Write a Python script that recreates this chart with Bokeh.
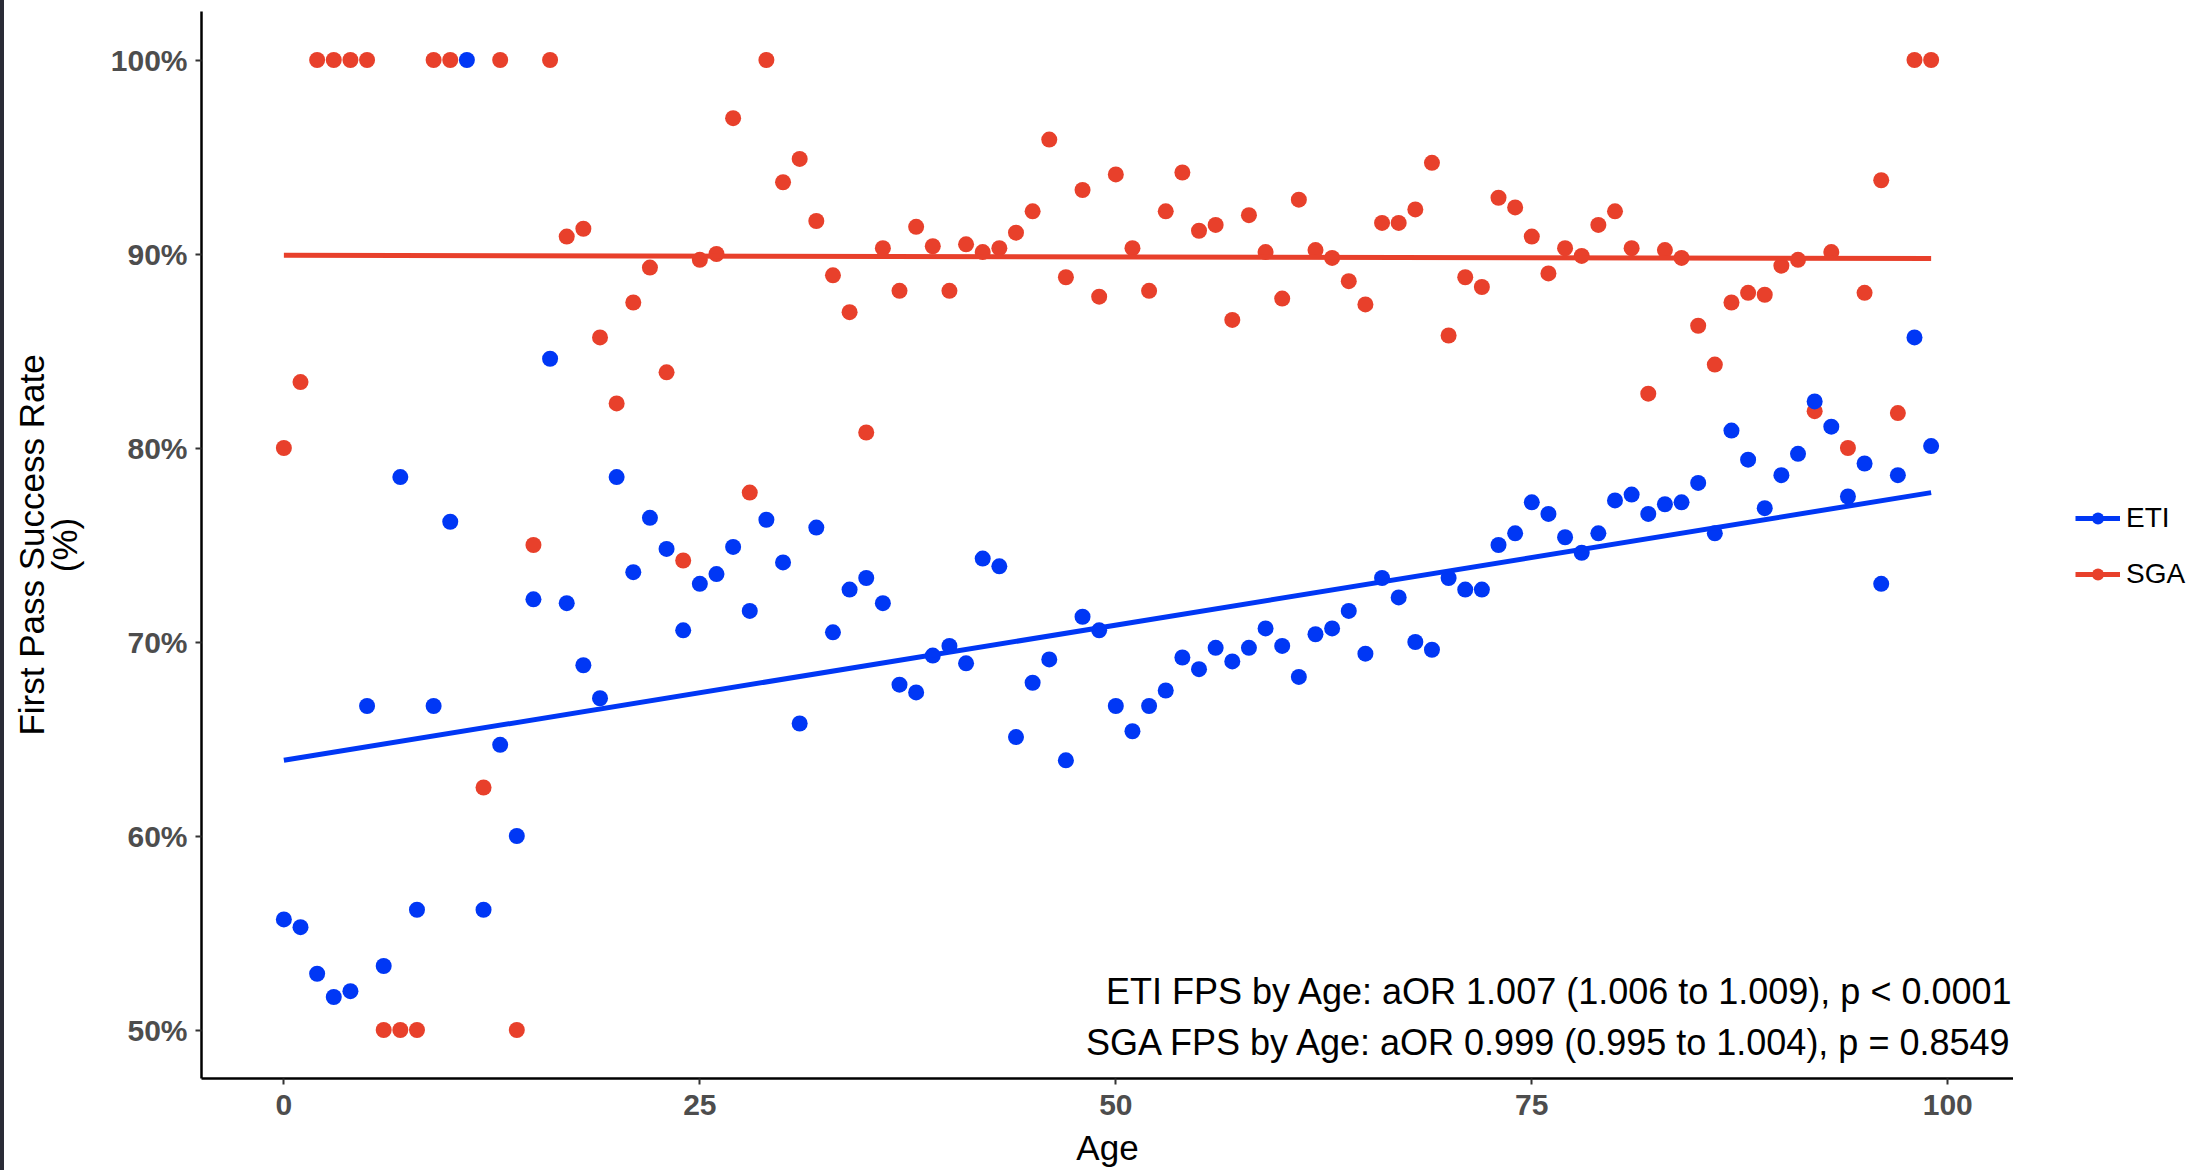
from bokeh.plotting import figure
from bokeh.models import (Legend, LegendItem, Label, FixedTicker, PrintfTickFormatter,
                          Range1d, ColumnDataSource, Div)
from bokeh.layouts import row
from bokeh.embed import file_html
from bokeh.resources import INLINE

# ---------------- data ----------------
eti_age = list(range(100))
eti_fps = [55.7, 55.3, 52.9, 51.7, 52.0, 66.7, 53.3, 78.5, 56.2, 66.7,
           76.2, 100.0, 56.2, 64.7, 60.0, 72.2, 84.6, 72.0, 68.8, 67.1,
           78.5, 73.6, 76.4, 74.8, 70.6, 73.0, 73.5, 74.9, 71.6, 76.3,
           74.1, 65.8, 75.9, 70.5, 72.7, 73.3, 72.0, 67.8, 67.4, 69.3,
           69.8, 68.9, 74.3, 73.9, 65.1, 67.9, 69.1, 63.9, 71.3, 70.6,
           66.7, 65.4, 66.7, 67.5, 69.2, 68.6, 69.7, 69.0, 69.7, 70.7,
           69.8, 68.2, 70.4, 70.7, 71.6, 69.4, 73.3, 72.3, 70.0, 69.6,
           73.3, 72.7, 72.7, 75.0, 75.6, 77.2, 76.6, 75.4, 74.6, 75.6,
           77.3, 77.6, 76.6, 77.1, 77.2, 78.2, 75.6, 80.9, 79.4, 76.9,
           78.6, 79.7, 82.4, 81.1, 77.5, 79.2, 73.0, 78.6, 85.7, 80.1]

sga_age = [0, 1, 2, 3, 4, 5, 6, 7, 8, 9, 10, 12, 13, 14, 15, 16, 17, 18, 19,
           20, 21, 22, 23, 24, 25, 26, 27, 28, 29, 30, 31, 32, 33, 34, 35, 36, 37, 38, 39,
           40, 41, 42, 43, 44, 45, 46, 47, 48, 49, 50, 51, 52, 53, 54, 55, 56, 57, 58, 59,
           60, 61, 62, 63, 64, 65, 66, 67, 68, 69, 70, 71, 72, 73, 74, 75, 76, 77, 78, 79,
           80, 81, 82, 83, 84, 85, 86, 87, 88, 89, 90, 91, 92, 93, 94, 95, 96, 97, 98, 99]
sga_fps = [80.0, 83.4, 100.0, 100.0, 100.0, 100.0, 50.0, 50.0, 50.0, 100.0, 100.0,
           62.5, 100.0, 50.0, 75.0, 100.0, 90.9, 91.3, 85.7,
           82.3, 87.5, 89.3, 83.9, 74.2, 89.7, 90.0, 97.0, 77.7, 100.0,
           93.7, 94.9, 91.7, 88.9, 87.0, 80.8, 90.3, 88.1, 91.4, 90.4,
           88.1, 90.5, 90.1, 90.3, 91.1, 92.2, 95.9, 88.8, 93.3, 87.8,
           94.1, 90.3, 88.1, 92.2, 94.2, 91.2, 91.5, 86.6, 92.0, 90.1,
           87.7, 92.8, 90.2, 89.8, 88.6, 87.4, 91.6, 91.6, 92.3, 94.7,
           85.8, 88.8, 88.3, 92.9, 92.4, 90.9, 89.0, 90.3, 89.9, 91.5,
           92.2, 90.3, 82.8, 90.2, 89.8, 86.3, 84.3, 87.5, 88.0, 87.9,
           89.4, 89.7, 81.9, 90.1, 80.0, 88.0, 93.8, 81.8, 100.0, 100.0]

# fitted trend lines (end points)
fit_age = [0, 99]
eti_fit = [63.9, 77.7]
sga_fit = [89.93, 89.77]

x_ticks = [0, 25, 50, 75, 100]
y_ticks = [50, 60, 70, 80, 90, 100]

groups = ["ETI", "SGA"]
annot_lines = ["ETI FPS by Age: aOR 1.007 (1.006 to 1.009), p < 0.0001",
               "SGA FPS by Age: aOR 0.999 (0.995 to 1.004), p = 0.8549"]

BLUE = "#0037F5"
RED = "#E8402B"
FONT = "Liberation Sans"
X_LO, X_HI = -4.95, 103.95

sga_src = ColumnDataSource(dict(x=sga_age, y=sga_fps))
eti_src = ColumnDataSource(dict(x=eti_age, y=eti_fps))
eti_fit_src = ColumnDataSource(dict(x=fit_age, y=eti_fit))
sga_fit_src = ColumnDataSource(dict(x=fit_age, y=sga_fit))

# ---------------- main panel ----------------
p = figure(width=2009, height=1170, output_backend="svg", toolbar_location=None,
           x_range=Range1d(X_LO, X_HI), y_range=Range1d(47.5, 102.5),
           min_border_left=197, min_border_right=0, min_border_top=11,
           min_border_bottom=92)
p.outline_line_color = None
p.grid.visible = False
p.background_fill_color = "white"
p.border_fill_color = "white"

p.scatter("x", "y", source=sga_src, size=16, color=RED, line_color=None)
p.scatter("x", "y", source=eti_src, size=16, color=BLUE, line_color=None)
p.line("x", "y", source=eti_fit_src, color=BLUE, line_width=5)
p.line("x", "y", source=sga_fit_src, color=RED, line_width=5)

for ax in (p.xaxis[0], p.yaxis[0]):
    ax.axis_line_color = "black"
    ax.axis_line_width = 2.5
    ax.major_tick_line_color = "#333333"
    ax.major_tick_line_width = 2
    ax.major_tick_out = 6
    ax.major_tick_in = 0
    ax.minor_tick_line_color = None
    ax.major_label_text_font = FONT
    ax.major_label_text_font_style = "bold"
    ax.major_label_text_color = "#4D4D4D"
    ax.major_label_text_font_size = "30px"
    ax.axis_label_text_font = FONT
    ax.axis_label_text_font_style = "normal"
    ax.axis_label_text_color = "black"
    ax.axis_label_text_font_size = "35px"

p.xaxis.ticker = FixedTicker(ticks=x_ticks)
p.yaxis.ticker = FixedTicker(ticks=y_ticks)
p.yaxis.formatter = PrintfTickFormatter(format="%d%%")
p.xaxis.axis_label = "Age"
p.yaxis.axis_label = "First Pass Success Rate\n(%)"
p.yaxis.axis_label_text_line_height = 0.85
p.xaxis.major_label_standoff = 10
p.xaxis.axis_label_standoff = 10
p.yaxis.major_label_standoff = 8
p.yaxis.axis_label_standoff = 24

# annotation text (bottom right, inside the panel)
for txt, yy in zip(annot_lines, [52.0, 49.33]):
    p.add_layout(Label(x=X_HI, y=yy, text=txt, text_align="right",
                       text_baseline="middle", text_font=FONT,
                       text_font_size="36px", text_color="black"))

# ---------------- legend (guide area on the right) ----------------
# the legend figure re-uses the series' sources; its view range is empty of data,
# so only the legend keys are visible.
lf = figure(width=192, height=1170, output_backend="svg", toolbar_location=None,
            x_axis_type=None, y_axis_type=None, min_border=0,
            x_range=Range1d(1000, 1001), y_range=Range1d(1000, 1001))
lf.outline_line_color = None
lf.grid.visible = False
items = []
for name, col, src, fsrc in zip(groups, [BLUE, RED], [eti_src, sga_src],
                                [eti_fit_src, sga_fit_src]):
    ln = lf.line("x", "y", source=fsrc, color=col, line_width=5)
    pt = lf.scatter("x", "y", source=src, size=16, color=col, line_color=None)
    items.append(LegendItem(label=name, renderers=[ln, pt]))

legend = Legend(items=items, location=(62, 488), orientation="vertical",
                label_text_font=FONT, label_text_font_size="28px",
                label_text_color="black", glyph_width=45, glyph_height=30,
                spacing=24, padding=0, margin=0,
                border_line_color=None, background_fill_color=None,
                background_fill_alpha=0, label_standoff=6)
lf.add_layout(legend, "center")

edge = Div(text="", width=4, height=1170, margin=0,
           styles={"background-color": "#2a2b36"})

layout = row(edge, p, lf, spacing=0)
open("out.html", "w").write(file_html(layout, INLINE))
